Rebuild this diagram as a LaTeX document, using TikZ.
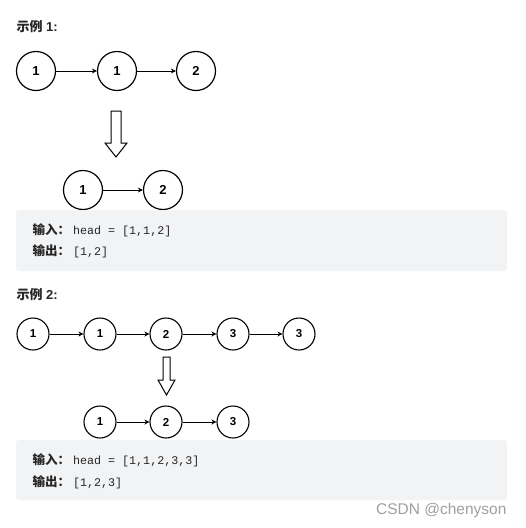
\documentclass[tikz,border=0pt]{standalone}
\usepackage{fontspec}
\setmainfont{Liberation Sans}
\setmonofont{Liberation Mono}
\newfontfamily\cjk{Noto Sans CJK SC}
\usetikzlibrary{arrows.meta}
\definecolor{boxgray}{HTML}{F2F3F5}
\definecolor{titlegray}{HTML}{262626}
\definecolor{markgray}{HTML}{A0A0A0}
\newcommand{\cjklabel}[1]{{\cjk\bfseries\fontsize{12.5}{12}\selectfont #1}\hspace{3pt}}

\begin{document}
\begin{tikzpicture}[x=1pt, y=-1pt, >={Stealth[length=5pt, width=5pt]},
    bignode/.style={circle, draw, line width=1.2pt, minimum size=39pt, inner sep=0pt, font=\fontsize{13}{13}\selectfont\bfseries},
    smallnode/.style={circle, draw, line width=1.1pt, minimum size=32pt, inner sep=0pt, font=\fontsize{11.5}{12}\selectfont\bfseries},
    link/.style={->, line width=0.9pt},
    hollow/.style={draw, line width=1pt, fill=white},
    codebox/.style={fill=boxgray, rounded corners=3pt},
    title/.style={anchor=west, text=titlegray, font=\fontsize{13}{13}\selectfont\bfseries},
    codeline/.style={anchor=west, text=titlegray, font=\fontsize{11.7}{12}\selectfont}]
    \fill[white] (0,0) rectangle (526,528);
    \useasboundingbox (0,0) rectangle (526,528);

    % 示例 1
    \node[title] (t1) at (13,27) {{\cjk 示例} 1:};
    \node[bignode] (a1) at (36,71)  {1};
    \node[bignode] (a2) at (117,71) {1};
    \node[bignode] (a3) at (196,71) {2};
    \draw[link] (a1) -- (a2);
    \draw[link] (a2) -- (a3);

    \draw[hollow] (111,111) -- (121,111) -- (121,143) -- (127,143) -- (116,157)
        -- (105,143) -- (111,143) -- cycle;

    \node[bignode] (b1) at (83,190)  {1};
    \node[bignode] (b2) at (163,190) {2};
    \draw[link] (b1) -- (b2);

    \fill[codebox] (16,210) rectangle (507,271);
    \node[codeline] (in1)  at (29,230) {\cjklabel{输入：}\ttfamily head = [1,1,2]};
    \node[codeline] (out1) at (29,251) {\cjklabel{输出：}\ttfamily [1,2]};

    % 示例 2
    \node[title] (t2) at (13,295) {{\cjk 示例} 2:};
    \node[smallnode] (c1) at (33,334)  {1};
    \node[smallnode] (c2) at (100,334) {1};
    \node[smallnode] (c3) at (166,334) {2};
    \node[smallnode] (c4) at (233,334) {3};
    \node[smallnode] (c5) at (299,334) {3};
    \draw[link] (c1) -- (c2);
    \draw[link] (c2) -- (c3);
    \draw[link] (c3) -- (c4);
    \draw[link] (c4) -- (c5);

    \draw[hollow] (163,357) -- (170,357) -- (170,380) -- (175,380) -- (166.5,395)
        -- (158,380) -- (163,380) -- cycle;

    \node[smallnode] (d1) at (100,422) {1};
    \node[smallnode] (d2) at (166,422) {2};
    \node[smallnode] (d3) at (233,422) {3};
    \draw[link] (d1) -- (d2);
    \draw[link] (d2) -- (d3);

    \fill[codebox] (16,440) rectangle (507,500);
    \node[codeline] (in2)  at (29,460) {\cjklabel{输入：}\ttfamily head = [1,1,2,3,3]};
    \node[codeline] (out2) at (29,482) {\cjklabel{输出：}\ttfamily [1,2,3]};

    \node[anchor=east, text=markgray, font=\fontsize{15.5}{16}\selectfont] (mark) at (510,510) {CSDN @chenyson};
\end{tikzpicture}
\end{document}
